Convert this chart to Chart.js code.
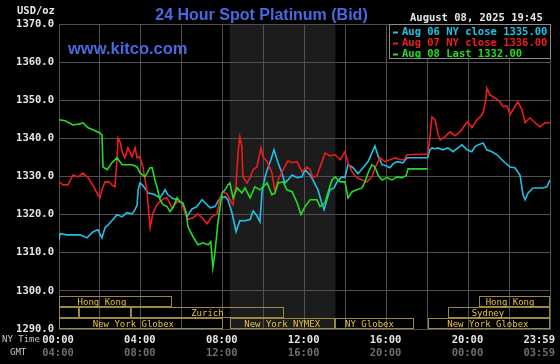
<!DOCTYPE html>
<html><head><meta charset="utf-8">
<script src="https://cdn.jsdelivr.net/npm/chart.js@4.4.1/dist/chart.umd.min.js"></script>
<style>html,body{margin:0;padding:0;background:#000;overflow:hidden}canvas{display:block}</style>
</head><body>
<canvas id="c" width="560" height="364"></canvas>
<script>
// ---------- texts ----------
const chartTitle = "24 Hour Spot Platinum (Bid)";
const siteText = "www.kitco.com";
const stampText = "August 08, 2025 19:45";
const unitText = "USD/oz";
const nyRowLabel = "NY Time";
const gmtRowLabel = "GMT";
const seriesLabels = ["Aug 06 NY close 1335.00", "Aug 07 NY close 1336.00", "Aug 08 Last 1332.00"];

// ---------- axes ----------
const yMin = 1290, yMax = 1370, yStep = 10;
const gridMinutes = [0,120,240,360,480,600,720,840,960,1080,1200,1320,1439];
const tickMinutes = [0,240,480,720,960,1200,1439];
const nyTickLabels = ["00:00","04:00","08:00","12:00","16:00","20:00","23:59"];
const gmtTickLabels = ["04:00","08:00","12:00","16:00","20:00","00:00","03:59"];

// ---------- series (minutes after NY midnight, USD/oz) ----------
const aug06Min = [0,3,23,38,62,82,100,114,126,135,144,158,170,185,199,214,223,229,232,237,246,261,281,296,311,319,334,349,363,375,390,404,419,428,443,457,472,487,495,507,519,530,545,560,569,580,589,595,604,613,621,630,642,654,662,671,683,698,712,721,736,744,759,771,777,785,794,806,815,829,838,847,862,876,891,906,917,926,935,947,958,970,979,991,1008,1020,1080,1087,1093,1102,1111,1125,1140,1155,1169,1181,1196,1210,1219,1228,1243,1254,1269,1284,1298,1307,1322,1336,1351,1360,1366,1375,1389,1404,1418,1430,1439];
const aug06Val = [1313.2,1315.0,1314.7,1314.7,1314.7,1313.9,1315.5,1316.0,1313.9,1316.6,1317.3,1318.7,1320.0,1319.4,1320.5,1320.2,1321.3,1322.6,1326.5,1328.3,1327.6,1325.7,1325.2,1324.4,1326.5,1325.2,1324.2,1323.9,1322.6,1319.4,1321.5,1322.1,1323.9,1323.1,1321.8,1322.1,1324.4,1324.7,1323.9,1320.5,1315.5,1318.4,1318.4,1318.7,1321.0,1319.7,1318.1,1326.0,1329.9,1332.5,1334.4,1337.0,1333.6,1330.7,1328.3,1329.1,1330.4,1329.7,1329.9,1331.8,1330.4,1329.1,1326.5,1322.8,1321.3,1323.9,1326.5,1327.0,1328.6,1329.9,1329.7,1333.1,1332.3,1330.7,1332.3,1333.9,1336.2,1338.0,1335.4,1333.1,1332.8,1332.3,1333.3,1333.9,1333.6,1334.9,1334.9,1337.0,1337.5,1337.3,1337.5,1337.0,1337.5,1336.5,1337.5,1338.3,1337.0,1336.5,1337.8,1338.3,1338.8,1337.0,1336.5,1335.7,1334.4,1333.6,1332.5,1332.3,1330.4,1325.2,1323.9,1325.7,1327.0,1327.0,1327.0,1327.3,1329.1];

const aug07Min = [0,12,26,41,56,70,85,100,114,120,126,135,147,155,164,170,173,179,185,193,202,214,223,229,237,246,258,267,275,287,296,308,317,331,346,360,369,378,393,407,419,434,448,463,472,481,492,501,510,519,525,530,536,539,551,560,569,580,592,598,610,624,633,642,657,671,683,698,712,727,736,744,756,771,780,794,809,824,838,847,859,873,888,903,917,926,941,955,970,985,999,1011,1020,1080,1084,1093,1102,1111,1117,1131,1146,1161,1175,1184,1196,1205,1210,1225,1234,1243,1251,1254,1263,1278,1292,1301,1313,1322,1336,1345,1357,1366,1380,1395,1410,1424,1439];
const aug07Val = [1328.6,1327.8,1327.8,1330.4,1329.9,1330.9,1329.7,1327.6,1325.2,1324.4,1326.5,1328.6,1328.6,1327.8,1327.3,1334.4,1340.1,1339.1,1336.5,1334.9,1337.5,1335.2,1337.5,1334.9,1335.2,1332.5,1326.0,1316.6,1320.2,1322.6,1323.4,1324.2,1324.4,1321.8,1323.4,1323.1,1320.5,1318.7,1319.2,1320.2,1319.2,1317.6,1319.4,1320.2,1324.4,1326.0,1325.5,1323.9,1322.6,1327.8,1336.5,1340.4,1337.8,1329.9,1328.3,1329.7,1331.8,1332.5,1337.5,1335.2,1333.9,1331.0,1326.0,1329.1,1331.8,1334.1,1333.6,1333.9,1331.2,1332.5,1331.8,1329.7,1330.2,1333.9,1336.2,1335.4,1335.7,1334.4,1336.5,1333.6,1331.2,1329.7,1329.1,1328.6,1329.9,1332.3,1334.9,1333.9,1334.4,1334.9,1334.4,1334.4,1335.7,1335.9,1337.8,1345.6,1344.9,1341.0,1339.6,1340.4,1341.7,1340.7,1341.7,1342.8,1344.3,1343.5,1342.8,1344.9,1345.6,1346.7,1350.1,1353.2,1351.4,1350.6,1349.6,1348.3,1348.5,1346.2,1348.3,1349.6,1347.5,1344.1,1345.4,1344.1,1343.0,1344.1,1344.1];

const aug08Min = [0,18,41,62,70,85,106,120,126,129,141,155,170,185,199,214,229,237,252,267,273,281,287,296,305,317,325,334,346,355,363,372,378,393,407,422,437,445,451,457,466,478,487,495,501,510,522,536,545,560,574,589,610,624,633,642,657,668,683,698,709,721,736,756,765,780,788,800,809,824,838,847,859,873,888,897,906,917,926,935,947,961,976,991,1005,1017,1023,1080];
const aug08Val = [1344.9,1344.6,1343.5,1343.8,1344.1,1342.8,1342.0,1341.4,1340.9,1332.5,1331.8,1333.6,1334.9,1333.1,1333.1,1333.1,1332.5,1331.0,1329.9,1332.3,1332.3,1329.1,1327.3,1323.9,1322.6,1322.1,1320.8,1321.8,1324.4,1323.4,1323.1,1320.8,1316.8,1314.2,1312.1,1312.6,1312.1,1312.9,1306.1,1310.0,1318.1,1325.7,1326.5,1327.8,1328.3,1324.4,1327.0,1325.7,1327.0,1324.4,1327.3,1326.5,1328.3,1325.2,1325.7,1328.3,1328.6,1326.5,1326.0,1323.1,1320.0,1322.1,1323.9,1323.9,1322.1,1323.1,1325.7,1329.1,1329.9,1328.6,1328.6,1324.4,1326.0,1326.5,1327.0,1328.6,1331.0,1333.1,1332.5,1330.4,1329.1,1329.7,1329.1,1329.9,1329.7,1330.2,1332.0,1332.0];

// ---------- trading sessions (minutes) ----------
const sessionNames = ["Hong Kong","","","Zurich","New York Globex","New York NYMEX","NY Globex","New York Globex","Sydney","Hong Kong"];
const sessionStart = [0,0,60,210,0,500,810,1080,1140,1230];
const sessionEnd   = [330,60,210,660,480,810,1040,1439,1439,1439];
const sessionRow   = [0,1,1,1,2,2,2,2,1,0];
const sessionLabelAt = [126,0,0,435,218,654,910,1257,1257,1322];
const nymexShade = [500, 810];

// ---------- styles ----------
const colors = ["#22c0e8", "#ee1c1c", "#22dd22"];
const monoFamily = '"DejaVu Sans Mono", "Liberation Mono", monospace';
const sansFamily = '"Liberation Sans", Arial, sans-serif';

function pts(m, v){ return m.map((t,i)=>({x:t, y:v[i]})); }

const decor = {
  id: 'kitcoDecor',
  beforeDraw(chart){
    const {ctx, chartArea:a, scales:{x}} = chart;
    ctx.save();
    ctx.fillStyle = '#000';
    ctx.fillRect(0,0,chart.width,chart.height);
    const s0 = x.getPixelForValue(nymexShade[0]), s1 = x.getPixelForValue(nymexShade[1]);
    ctx.fillStyle = '#1c1c1c';
    ctx.fillRect(s0, a.top, s1-s0, a.bottom-a.top);
    ctx.restore();
  },
  afterDraw(chart){
    const {ctx, chartArea:a, scales:{x}} = chart;
    ctx.save();
    // session boxes
    const rowH = 11;
    ctx.font = '9px ' + monoFamily;
    ctx.textAlign = 'center';
    ctx.textBaseline = 'alphabetic';
    for (let i=0;i<sessionNames.length;i++){
      const x0 = Math.round(x.getPixelForValue(sessionStart[i]));
      const x1 = Math.round(x.getPixelForValue(sessionEnd[i]));
      const top = Math.round(a.bottom) - (3-sessionRow[i])*rowH;
      ctx.strokeStyle = '#9a8840';
      ctx.lineWidth = 1;
      ctx.strokeRect(x0+0.5, top+0.5, x1-x0-1, rowH-1);
      if (sessionNames[i]){
        ctx.fillStyle = '#e8c23a';
        ctx.fillText(sessionNames[i], x.getPixelForValue(sessionLabelAt[i]), top+9);
      }
    }
    // x tick labels (NY and GMT)
    ctx.font = 'bold 10.5px ' + monoFamily;
    for (let i=0;i<tickMinutes.length;i++){
      const px = x.getPixelForValue(tickMinutes[i]);
      const last = i === tickMinutes.length-1;
      ctx.textAlign = last ? 'right' : 'center';
      const tx = last ? px+5 : px-1;
      ctx.fillStyle = '#e6e6e6';
      ctx.fillText(nyTickLabels[i], tx, 342.5);
      ctx.fillStyle = '#6e6e6e';
      ctx.fillText(gmtTickLabels[i], tx, 356);
    }
    ctx.font = '9px ' + monoFamily;
    ctx.textAlign = 'left';
    ctx.fillStyle = '#c8c8c8';
    ctx.fillText(nyRowLabel, 2, 342);
    ctx.fillText(gmtRowLabel, 10, 355);
    // unit
    ctx.font = 'bold 10.5px ' + monoFamily;
    ctx.fillStyle = '#e6e6e6';
    ctx.fillText(unitText, 17, 14);
    // title
    ctx.font = 'bold 16px ' + sansFamily;
    ctx.fillStyle = '#4a68e0';
    ctx.textAlign = 'center';
    ctx.fillText(chartTitle, 261.5, 19.5);
    ctx.font = 'bold 16.5px ' + sansFamily;
    ctx.textAlign = 'left';
    ctx.fillText(siteText, 68, 54);
    // date stamp
    ctx.font = 'bold 10.5px ' + monoFamily;
    ctx.fillStyle = '#e6e6e6';
    ctx.fillText(stampText, 410, 20.5);
    // legend box
    const lx0 = 389.5, ly0 = Math.round(a.top)+0.5, lx1 = Math.round(a.right)+0.5, ly1 = ly0+34;
    ctx.fillStyle = '#000';
    ctx.fillRect(lx0, ly0, lx1-lx0, ly1-ly0);
    ctx.strokeStyle = '#8a8a8a';
    ctx.strokeRect(lx0, ly0, lx1-lx0, ly1-ly0);
    const order = [2,1,0];
    for (let r=0;r<3;r++){
      const ds = chart.data.datasets[order[r]];
      const by = ly0 + 10 + r*11;
      ctx.fillStyle = ds.borderColor;
      ctx.fillRect(393, by-3, 5, 2);
      ctx.fillText(ds.label, 402, by);
    }
    ctx.restore();
  }
};

new Chart(document.getElementById('c'), {
  type: 'line',
  data: {
    datasets: [
      { label: seriesLabels[2], data: pts(aug08Min, aug08Val), borderColor: colors[2], backgroundColor: colors[2], borderWidth: 1.6, pointRadius: 0, tension: 0 },
      { label: seriesLabels[1], data: pts(aug07Min, aug07Val), borderColor: colors[1], backgroundColor: colors[1], borderWidth: 1.6, pointRadius: 0, tension: 0 },
      { label: seriesLabels[0], data: pts(aug06Min, aug06Val), borderColor: colors[0], backgroundColor: colors[0], borderWidth: 1.6, pointRadius: 0, tension: 0 }
    ]
  },
  options: {
    responsive: false,
    devicePixelRatio: 1,
    animation: false,
    events: [],
    layout: { padding: { top: 24, right: 10, left: 0, bottom: 0 } },
    plugins: { legend: { display: false }, tooltip: { enabled: false }, title: { display: false } },
    scales: {
      x: {
        type: 'linear', min: 0, max: 1439,
        afterBuildTicks(s){ s.ticks = gridMinutes.map(v=>({value:v})); },
        afterFit(s){ s.height = 35; },
        ticks: { display: false },
        grid: { color: '#505050', lineWidth: 1, drawTicks: false },
        border: { color: '#505050' }
      },
      y: {
        min: yMin, max: yMax,
        afterFit(s){ s.width = 59; },
        ticks: { stepSize: yStep, padding: 5, color: '#e6e6e6', font: { family: monoFamily, size: 10.5, weight: 'bold' }, callback: v => Number(v).toFixed(1) },
        grid: { color: '#505050', lineWidth: 1, drawTicks: false },
        border: { color: '#505050' }
      }
    }
  },
  plugins: [decor]
});
</script>
</body></html>
